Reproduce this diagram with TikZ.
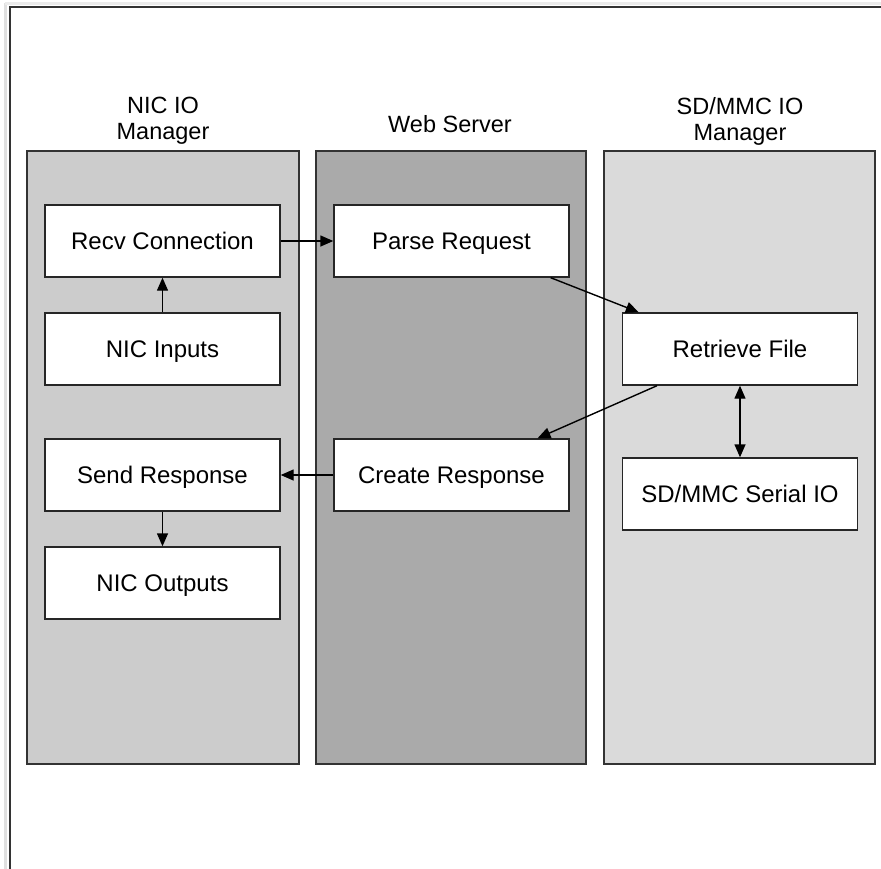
\documentclass[tikz,border=0pt]{standalone}
\usepackage{fontspec}
\setmainfont{Liberation Sans}
\usetikzlibrary{arrows.meta}
\definecolor{nicfill}{HTML}{CCCCCC}
\definecolor{webfill}{HTML}{AAAAAA}
\definecolor{sdfill}{HTML}{DADADA}
\begin{document}
\begin{tikzpicture}[x=1pt,y=-1pt,
  lane/.style={draw=black!80, line width=1.4pt, minimum height=613pt, inner sep=0pt},
  stepbox/.style={draw=black!85, fill=white, line width=1.4pt, minimum width=235pt,
    minimum height=72pt, inner sep=0pt, text height=17pt, text depth=0pt,
    font=\fontsize{24}{27}\selectfont},
  title/.style={align=center, font=\fontsize{23.5}{26}\selectfont, inner sep=0pt},
  conn/.style={line width=1.4pt, -{Triangle[length=13pt,width=11pt]}},
  biconn/.style={line width=1.4pt, {Triangle[length=13pt,width=11pt]}-{Triangle[length=13pt,width=11pt]}},
]
\useasboundingbox (0,0) rectangle (881,868);
\clip (0,0) rectangle (881,868);

% page shadow and frame
\draw[line width=3pt, black!12] (5,3) -- (5,900);
\draw[line width=3pt, black!8] (5,3) -- (900,3);
\draw[line width=2.4pt, black!80] (10,7) rectangle (900,900);

% swimlanes
\node[lane, fill=nicfill, minimum width=272pt] (niclane) at (163,457.5) {};
\node[lane, fill=webfill, minimum width=270pt] (weblane) at (451,457.5) {};
\node[lane, fill=sdfill, minimum width=271pt] (sdlane) at (739.5,457.5) {};

% lane titles
\node[title] (nictitle) at (163,121) {NIC IO\\Manager};
\node[title] (webtitle) at (450,124) {Web Server};
\node[title] (sdtitle) at (740,121) {SD/MMC IO\\Manager};

% process steps
\node[stepbox] (recv) at (162.5,241) {Recv Connection};
\node[stepbox] (inputs) at (162.5,349) {NIC Inputs};
\node[stepbox] (send) at (162.5,475) {Send Response};
\node[stepbox] (outputs) at (162.5,583) {NIC Outputs};
\node[stepbox] (parse) at (451.5,241) {Parse Request};
\node[stepbox] (create) at (451.5,475) {Create Response};
\node[stepbox] (retrieve) at (740,349) {Retrieve File};
\node[stepbox] (serial) at (740,494) {SD/MMC Serial IO};

% data flow
\draw[conn] (inputs.north) -- (recv.south);
\draw[conn] (recv.east) -- (parse.west);
\draw[conn] ([xshift=-19pt]parse.south east) -- ([xshift=17pt]retrieve.north west);
\draw[conn] ([xshift=-83pt]retrieve.south) -- ([xshift=86pt]create.north);
\draw[biconn] (retrieve.south) -- (serial.north);
\draw[conn] (create.west) -- (send.east);
\draw[conn] (send.south) -- (outputs.north);
\end{tikzpicture}
\end{document}
